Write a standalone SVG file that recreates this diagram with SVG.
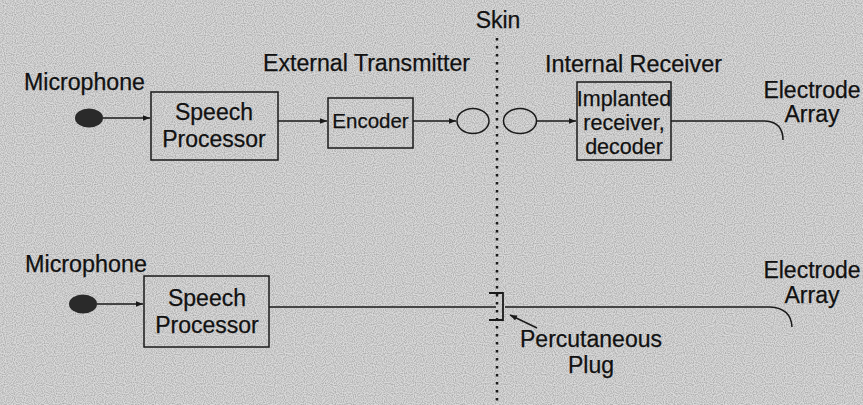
<svg xmlns="http://www.w3.org/2000/svg" width="863" height="405" viewBox="0 0 863 405">
<defs>
<style>
text{font-family:"Liberation Sans",Arial,sans-serif;fill:#111;stroke:#111;stroke-width:0.25;}
.lbl{font-size:23px;}
.box{fill:none;stroke:#1a1a1a;stroke-width:1.5;}
.wire{fill:none;stroke:#1a1a1a;stroke-width:1.5;}
.mic{fill:#2a2a2a;}
.coil{fill:none;stroke:#1a1a1a;stroke-width:1.5;}
</style>
<marker id="ah" viewBox="0 0 10 10" refX="10" refY="5" markerWidth="7" markerHeight="7" markerUnits="userSpaceOnUse" orient="auto">
<path d="M0,1 L10,5 L0,9 Z" fill="#1a1a1a"/>
</marker>
<filter id="grain" x="0" y="0" width="100%" height="100%">
<feTurbulence type="fractalNoise" baseFrequency="0.9" numOctaves="1" seed="3"/>
<feColorMatrix type="matrix" values="0 0 0 0 0  0 0 0 0 0  0 0 0 0 0  0 0 0 -1.6 1.05"/>
</filter>
</defs>
<rect x="0" y="0" width="863" height="405" fill="#dadada"/>
<rect x="0" y="0" width="863" height="405" filter="url(#grain)" opacity="0.3"/>

<g id="skin">
<line x1="497" y1="38" x2="497" y2="405" stroke="#1a1a1a" stroke-width="2.5" stroke-dasharray="2.5 5.5"/>
<text class="lbl" x="498" y="28" text-anchor="middle">Skin</text>
</g>

<g id="section-labels">
<text class="lbl" x="263" y="71" textLength="207" lengthAdjust="spacingAndGlyphs">External Transmitter</text>
<text class="lbl" x="545" y="72" textLength="177" lengthAdjust="spacingAndGlyphs">Internal Receiver</text>
</g>

<g id="mic1">
<ellipse class="mic" cx="89" cy="118" rx="14" ry="9.5"/>
<text class="lbl" x="24" y="90" font-size="21" textLength="121" lengthAdjust="spacingAndGlyphs">Microphone</text>
</g>

<g id="speech1">
<rect class="box" x="151" y="92" width="127" height="68"/>
<text class="lbl" x="214" y="120" text-anchor="middle">Speech</text>
<text class="lbl" x="214" y="147" text-anchor="middle">Processor</text>
</g>

<g id="encoder">
<rect class="box" x="328" y="98" width="85" height="50"/>
<text x="370.5" y="128" text-anchor="middle" font-size="20.5">Encoder</text>
</g>

<g id="coil-ext"><ellipse class="coil" cx="473" cy="121" rx="16" ry="12.5"/></g>
<g id="coil-int"><ellipse class="coil" cx="520" cy="121" rx="16.5" ry="12.5"/></g>

<g id="implant">
<rect class="box" x="577" y="82" width="94" height="78"/>
<text x="624" y="106" text-anchor="middle" font-size="21.5">Implanted</text>
<text x="624" y="130" text-anchor="middle" font-size="21.5">receiver,</text>
<text x="624" y="154" text-anchor="middle" font-size="21.5">decoder</text>
</g>

<g id="electrode1">
<text class="lbl" x="812" y="98" text-anchor="middle">Electrode</text>
<text class="lbl" x="812" y="122" text-anchor="middle">Array</text>
</g>

<g id="mic2">
<ellipse class="mic" cx="83" cy="304" rx="14" ry="9.5"/>
<text class="lbl" x="25" y="272" font-size="21" textLength="122" lengthAdjust="spacingAndGlyphs">Microphone</text>
</g>

<g id="speech2">
<rect class="box" x="144" y="276" width="125" height="71"/>
<text class="lbl" x="207" y="306" text-anchor="middle">Speech</text>
<text class="lbl" x="207" y="333" text-anchor="middle">Processor</text>
</g>

<g id="plug">
<path d="M489,293 H503 V320 H489" fill="none" stroke="#1a1a1a" stroke-width="1.8"/>
<text class="lbl" x="591" y="347" text-anchor="middle">Percutaneous</text>
<text class="lbl" x="591" y="373" text-anchor="middle">Plug</text>
</g>

<g id="electrode2">
<text class="lbl" x="812" y="278" text-anchor="middle">Electrode</text>
<text class="lbl" x="812" y="303" text-anchor="middle">Array</text>
</g>

<g id="connectors">
<line class="wire" x1="103" y1="118" x2="150" y2="118" marker-end="url(#ah)"/>
<line class="wire" x1="278" y1="121" x2="327" y2="121" marker-end="url(#ah)"/>
<line class="wire" x1="413" y1="121" x2="456" y2="121" marker-end="url(#ah)"/>
<line class="wire" x1="536.5" y1="121" x2="576" y2="121" marker-end="url(#ah)"/>
<path class="wire" d="M671,121 H765 Q783,122 783,140"/>
<line class="wire" x1="97" y1="304" x2="143" y2="304" marker-end="url(#ah)"/>
<line class="wire" x1="269" y1="307" x2="496" y2="307"/>
<path class="wire" d="M505,307 H770 Q791,308 792,327"/>
<line class="wire" x1="537" y1="328" x2="510" y2="315" marker-end="url(#ah)"/>
</g>
</svg>
